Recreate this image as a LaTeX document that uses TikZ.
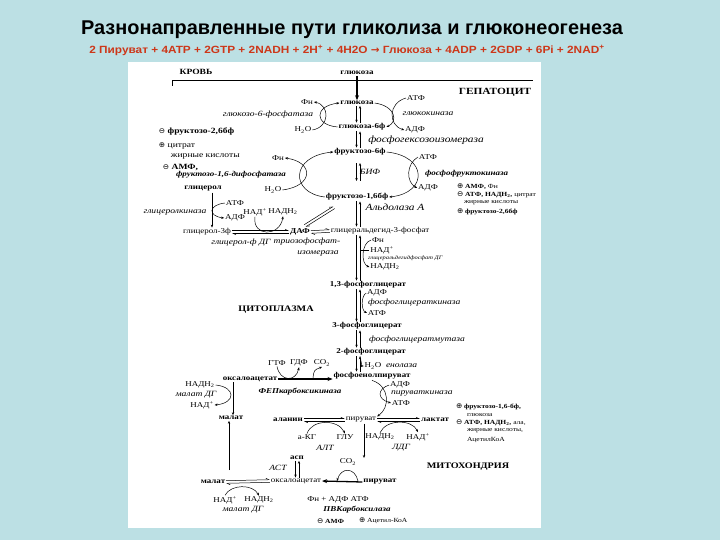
\documentclass[tikz,border=0pt]{standalone}
\usepackage{fontspec}
\setmainfont{Liberation Serif}
\newfontfamily\headfont{Liberation Sans}
\newfontfamily\sumfont{Liberation Sans}[FakeStretch=1.13]
\newfontfamily\dfont{Liberation Serif}[FakeStretch=1.2]
\newfontfamily\symfont{DejaVu Sans}
\usetikzlibrary{arrows.meta}
\definecolor{bgblue}{RGB}{188,224,228}
\definecolor{sumred}{RGB}{205,55,25}
\newcommand{\posreg}{{\symfont\fontsize{7.5}{7}\selectfont ⊕}}
\newcommand{\negreg}{{\symfont\fontsize{7.5}{7}\selectfont ⊖}}

\begin{document}
\begin{tikzpicture}
    [
        x=1bp, y=-1bp,
        line width=0.5pt,
        >={Stealth[length=3pt,width=2.4pt]},
        every node/.style={inner sep=0pt, outer sep=1pt},
        met/.style={font=\dfont\bfseries\fontsize{7.5}{8}\selectfont},
        sub/.style={font=\dfont\fontsize{7.5}{8}\selectfont},
        enz/.style={font=\dfont\itshape\fontsize{8}{9}\selectfont},
        enzb/.style={font=\dfont\bfseries\itshape\fontsize{7.5}{8}\selectfont},
        note/.style={font=\dfont\fontsize{6.3}{7}\selectfont, anchor=west},
        notel/.style={font=\dfont\fontsize{8}{9}\selectfont, anchor=west},
        place/.style={font=\dfont\bfseries\fontsize{8.5}{9}\selectfont},
        heavy/.style={line width=1.3pt, -{Stealth[length=5pt,width=4pt]}},
        harp/.style={-{Straight Barb[left,length=3pt,width=3pt]}}
    ]
    \fill[bgblue] (0,0) rectangle (720,540);
    \fill[white] (128,62) rectangle (541,528);

    \node[font=\headfont\bfseries\fontsize{20}{24}\selectfont] (title) at (352,30)
        {Разнонаправленные пути гликолиза и глюконеогенеза};
    \node[font=\sumfont\bfseries\fontsize{10.5}{12}\selectfont, text=sumred] (summary) at (347,50)
        {2 Пируват + 4ATP + 2GTP + 2NADH + 2H\textsuperscript{+} + 4H2O {\symfont→} Глюкоза + 4ADP + 2GDP + 6Pi + 2NAD\textsuperscript{+}};

    % membrane of the cell
    \draw (172,86) -- (172,80) -- (533,80);
    \node[place, font=\dfont\bfseries\fontsize{8}{9}\selectfont] (blood) at (196,72) {КРОВЬ};
    \node[place, font=\dfont\bfseries\fontsize{9.5}{10}\selectfont] (hepat) at (495,92) {ГЕПАТОЦИТ};
    \node[place] (cyto) at (276,310) {ЦИТОПЛАЗМА};
    \node[place] (mito) at (468,467) {МИТОХОНДРИЯ};

    % metabolites
    \node[met] (glcb) at (357,73) {глюкоза};
    \node[met] (glc) at (357,103) {глюкоза};
    \node[met] (g6p) at (362,127) {глюкоза-6ф};
    \node[met] (f6p) at (360,152) {фруктозо-6ф};
    \node[met] (f16) at (357,197) {фруктозо-1,6бф};
    \node[sub] (gap) at (380,231) {глицеральдегид-3-фосфат};
    \node[met] (dap) at (300,232) {ДАФ};
    \node[sub] (g3p) at (207,232) {глицерол-3ф};
    \node[met] (glyc) at (203,189) {глицерол};
    \node[met] (bpg) at (368,285) {1,3-фосфоглицерат};
    \node[met] (pg3) at (367,326) {3-фосфоглицерат};
    \node[met] (pg2) at (371,352) {2-фосфоглицерат};
    \node[met] (pep) at (372,376) {фосфоенолпируват};
    \node[met] (oaa) at (250,379) {оксалоацетат};
    \node[met] (mal) at (231,418) {малат};
    \node[met] (ala) at (288,420) {аланин};
    \node[sub] (pyr) at (361,420) {пируват};
    \node[met] (lac) at (435,420) {лактат};
    \node[met] (asp) at (297,458) {асп};
    \node[met] (mmal) at (213,482) {малат};
    \node[sub] (moaa) at (296,481) {оксалоацетат};
    \node[met] (mpyr) at (380,482) {пируват};

    % cofactors
    \node[sub] (fn1) at (307,102) {Фн};
    \node[sub] (h2o1) at (303,130) {H\textsubscript{2}O};
    \node[sub] (atp1) at (416,98) {АТФ};
    \node[sub] (adp1) at (415,130) {АДФ};
    \node[sub] (fn2) at (278,158) {Фн};
    \node[sub] (h2o2) at (273,190) {H\textsubscript{2}O};
    \node[sub] (atp2) at (428,157) {АТФ};
    \node[sub] (adp2) at (428,188) {АДФ};
    \node[sub] (atp3) at (235,203) {АТФ};
    \node[sub] (adp3) at (235,218) {АДФ};
    \node[sub] (nad1) at (255,212) {НАД\textsuperscript{+}};
    \node[sub] (nadh1) at (283,212) {НАДН\textsubscript{2}};
    \node[sub] (fn3) at (378,240) {Фн};
    \node[sub] (nad3) at (382,250) {НАД\textsuperscript{+}};
    \node[sub] (nadh3) at (385,267) {НАДН\textsubscript{2}};
    \node[sub] (adp4) at (377,293) {АДФ};
    \node[sub] (atp4) at (377,313) {АТФ};
    \node[sub] (h2o4) at (373,366) {H\textsubscript{2}O};
    \node[sub] (gtp) at (277,363) {ГТФ};
    \node[sub] (gdp) at (299,363) {ГДФ};
    \node[sub] (co2a) at (322,363) {СО\textsubscript{2}};
    \node[sub] (nadh5) at (200,385) {НАДН\textsubscript{2}};
    \node[sub] (nad5) at (202,405) {НАД\textsuperscript{+}};
    \node[sub] (adp6) at (400,385) {АДФ};
    \node[sub] (atp6) at (401,403) {АТФ};
    \node[sub] (akg) at (307,437) {а-КГ};
    \node[sub] (glu) at (345,437) {ГЛУ};
    \node[sub] (nadh7) at (380,437) {НАДН\textsubscript{2}};
    \node[sub] (nad7) at (418,437) {НАД\textsuperscript{+}};
    \node[sub] (co2b) at (348,462) {СО\textsubscript{2}};
    \node[sub] (ppi) at (338,500) {Фн + АДФ АТФ};
    \node[sub] (nad9) at (225,500) {НАД\textsuperscript{+}};
    \node[sub] (nadh9) at (259,500) {НАДН\textsubscript{2}};

    % enzymes
    \node[enz] (g6pase) at (268,115) {глюкозо-6-фосфатаза};
    \node[enz] (gkin) at (428,114) {глюкокиназа};
    \node[enz, font=\dfont\itshape\fontsize{9.5}{10}\selectfont] (pgi) at (426,140) {фосфогексозоизомераза};
    \node[enz, minimum height=16bp] (bif) at (370,172) {БИФ};
    \node[enzb, anchor=west] (pfk) at (424,174) {фосфофруктокиназа};
    \node[enzb] (fbp) at (231,175) {фруктозо-1,6-дифосфатаза};
    \node[enz, font=\dfont\itshape\fontsize{9.5}{10}\selectfont] (ald) at (395,207) {Альдолаза А};
    \node[enz] (glk) at (175,212) {глицеролкиназа};
    \node[enz] (g3pdh) at (241,243) {глицерол-ф ДГ};
    \node[enz] (tpi) at (307,242) {триозофосфат-};
    \node[enz] (tpi2) at (318,253) {изомераза};
    \node[enz, anchor=west, font=\dfont\itshape\fontsize{5.4}{6}\selectfont] (gapdh) at (367,258) {глицеральдегидфосфат ДГ};
    \node[enz, anchor=west] (pgk) at (367,303) {фосфоглицераткиназа};
    \node[enz, anchor=west] (pgm) at (368,340) {фосфоглицератмутаза};
    \node[enz, anchor=west] (eno) at (385,366) {енолаза};
    \node[enzb] (pepck) at (300,392) {ФЕПкарбоксикиназа};
    \node[enz] (mdh1) at (196,395) {малат ДГ};
    \node[enz, anchor=west] (pkin) at (390,393) {пируваткиназа};
    \node[enz] (alt) at (325,448) {АЛТ};
    \node[enz] (ldh) at (401,448) {ЛДГ};
    \node[enz] (ast) at (278,468) {АСТ};
    \node[enz] (mdh2) at (243,510) {малат ДГ};
    \node[enzb] (pcarb) at (357,510) {ПВКарбоксилаза};

    % regulators
    \node[notel] (r1) at (158,132) {\negreg\ \textbf{фруктозо-2,6бф}};
    \node[notel] (r2) at (158,146) {\posreg\ цитрат};
    \node[notel] (r3) at (170,156) {жирные кислоты};
    \node[notel] (r4) at (162,167) {\negreg\ \textbf{АМФ,}};
    \node[note] (r5) at (456,187) {\posreg\ \textbf{АМФ,} Фн};
    \node[note] (r6) at (456,195) {\negreg\ \textbf{АТФ, НАДН\textsubscript{2},} цитрат};
    \node[note] (r7) at (463,203) {жирные кислоты};
    \node[note] (r8) at (456,212) {\posreg\ \textbf{фруктозо-2,6бф}};
    \node[note] (r9) at (455,407) {\posreg\ \textbf{фруктозо-1,6-бф,}};
    \node[note] (r10) at (466,415) {глюкоза};
    \node[note] (r11) at (455,423) {\negreg\ \textbf{АТФ, НАДН\textsubscript{2},} ала,};
    \node[note] (r12) at (466,431) {жирные кислоты,};
    \node[note] (r13) at (466,440) {АцетилКоА};
    \node[note] (r14) at (316,521) {\negreg\ \textbf{АМФ}};
    \node[note] (r15) at (358,521) {\posreg\ Ацетил-КоА};

    \coordinate (axl) at (356.5,0);
    \coordinate (axr) at (360,0);
    \coordinate (gkx) at (212,0);
    \coordinate (axm) at (233,0);
    \coordinate (axa) at (295.5,0);
    \coordinate (axb) at (299,0);

    % main chain
    \draw[heavy] (glcb.south) -- (glc.north);
    \draw[->] (glc.south -| axl) -- (g6p.north -| axl);
    \draw[->] (g6p.north -| axr) -- (glc.south -| axr);
    \draw[->] (g6p.south -| axl) -- (f6p.north -| axl);
    \draw[->] (f6p.north -| axr) -- (g6p.south -| axr);
    \draw[->] (bif.north -| axl) -- (bif.south -| axl);
    \draw[->] (bif.south -| axr) -- (bif.north -| axr);
    \draw[->] (f16.south -| axl) -- (gap.north -| axl);
    \draw[->] (gap.north -| axr) -- (f16.south -| axr);
    \draw[->] (gap.south -| axl) -- (bpg.north -| axl);
    \draw[->] (bpg.north -| axr) -- (gap.south -| axr);
    \draw[->] (bpg.south -| axl) -- (pg3.north -| axl);
    \draw[->] (pg3.north -| axr) -- (bpg.south -| axr);
    \draw[->] (pg3.south -| axl) -- (pg2.north -| axl);
    \draw[->] (pg2.north -| axr) -- (pg3.south -| axr);
    \draw[->] (pg2.south -| axl) -- (pep.north -| axl);
    \draw[->] (pep.north -| axr) -- (pg2.south -| axr);

    % hexose steps
    \draw[->] (glc.east) .. controls (396,106) and (398,122) .. (g6p.east);
    \draw[->] (atp1.west) .. controls (388,103) and (388,125) .. (adp1.west);
    \draw[->] (g6p.west) .. controls (314,125) and (314,106) .. (glc.west);
    \draw[->] (h2o1.east) .. controls (330,127) and (330,105) .. (fn1.east);
    \draw[->] (f6p.east) .. controls (428,156) and (428,193) .. (f16.east);
    \draw[->] (atp2.west) .. controls (406,164) and (406,182) .. (adp2.west);
    \draw[->] (f16.west) .. controls (290,193) and (290,156) .. (f6p.west);
    \draw[->] (h2o2.east) .. controls (314,186) and (314,162) .. (fn2.east);

    % trioses and glycerol
    \draw[harp] ([shift={(4.3bp,3.1bp)}]dap.north) -- ([shift={(-23.7bp,-4.9bp)}]f16.south);
    \draw[harp] ([shift={(-22.3bp,-7.1bp)}]f16.south) -- ([shift={(5.7bp,0.9bp)}]dap.north);
    \draw[harp] ([yshift=1.3bp]g3p.east) -- ([yshift=1.3bp]dap.west);
    \draw[harp] ([yshift=-1.3bp]dap.west) -- ([yshift=-1.3bp]g3p.east);
    \draw[harp] ([yshift=1.3bp]dap.east) -- ([yshift=1.3bp]gap.west);
    \draw[harp] ([yshift=-1.3bp]gap.west) -- ([yshift=-1.3bp]dap.east);
    \draw[->] (glyc.south -| gkx) -- (g3p.north -| gkx);
    \draw[->] (atp3.west) .. controls (208,205) and (208,216) .. (adp3.west);
    \draw[->] (nad1.south) .. controls (252,237) and (280,237) .. (nadh1.south);

    % lower glycolysis
    \draw[->] (fn3.west) .. controls (361,243) and (361,264) .. (nadh3.west);
    \draw (nad3.west) -- (nad3.west -| axr);
    \draw[->] (adp4.west) .. controls (361,296) and (361,310) .. (atp4.west);
    \draw[->] (pg2.south -| axr) .. controls (362,366) .. (h2o4.west);
    \draw[->] (pep.south) .. controls (390,386) and (390,408) .. (pyr.north east);
    \draw[->] (adp6.west) .. controls (377,389) and (377,399) .. (atp6.west);

    % bypass from oxaloacetate
    \coordinate (co2fork) at (313,378);
    \draw[heavy] (oaa.east) -- (oaa.east -| pep.west);
    \draw[->] (gtp.south) .. controls (280,382) and (296,382) .. (gdp.south);
    \draw[->] (co2fork) .. controls (314,370) .. (co2a.south);
    \draw[->] (oaa.south -| axm) -- (mal.north -| axm);
    \draw[->] (nadh5.east) .. controls (236,387) and (236,403) .. (nad5.east);

    % pyruvate row
    \draw[harp] ([yshift=1.3bp]ala.east) -- ([yshift=1.3bp]pyr.west);
    \draw[harp] ([yshift=-1.3bp]pyr.west) -- ([yshift=-1.3bp]ala.east);
    \draw[harp] ([yshift=1.3bp]pyr.east) -- ([yshift=1.3bp]lac.west);
    \draw[harp] ([yshift=-1.3bp]lac.west) -- ([yshift=-1.3bp]pyr.east);
    \draw[->] (akg.north) .. controls (312,419) and (338,419) .. (glu.north);
    \draw[->] (nadh7.north) .. controls (386,419) and (412,419) .. (nad7.north);

    % mitochondrion
    \coordinate (pyrdown) at (364,458);
    \coordinate (malbot) at (229,470);
    \coordinate (co2l) at (337,481);
    \coordinate (co2r) at (358,481);
    \draw[->] (pyr.south -| pyrdown) -- (pyrdown);
    \draw[->] (malbot) -- (mal.south -| malbot);
    \draw[->] (asp.south -| axa) -- (moaa.north -| axa);
    \draw[->] (moaa.north -| axb) -- (asp.south -| axb);
    \draw[harp] ([yshift=1.3bp]mmal.east) -- ([yshift=1.3bp]moaa.west);
    \draw[harp] ([yshift=-1.3bp]moaa.west) -- ([yshift=-1.3bp]mmal.east);
    \draw[heavy] (mpyr.west) -- (moaa.east);
    \draw[->] (co2r) .. controls (355,467) and (341,467) .. (co2l);
    \draw[->] (nad9.north) .. controls (231,484) and (253,484) .. (nadh9.north);
\end{tikzpicture}
\end{document}
